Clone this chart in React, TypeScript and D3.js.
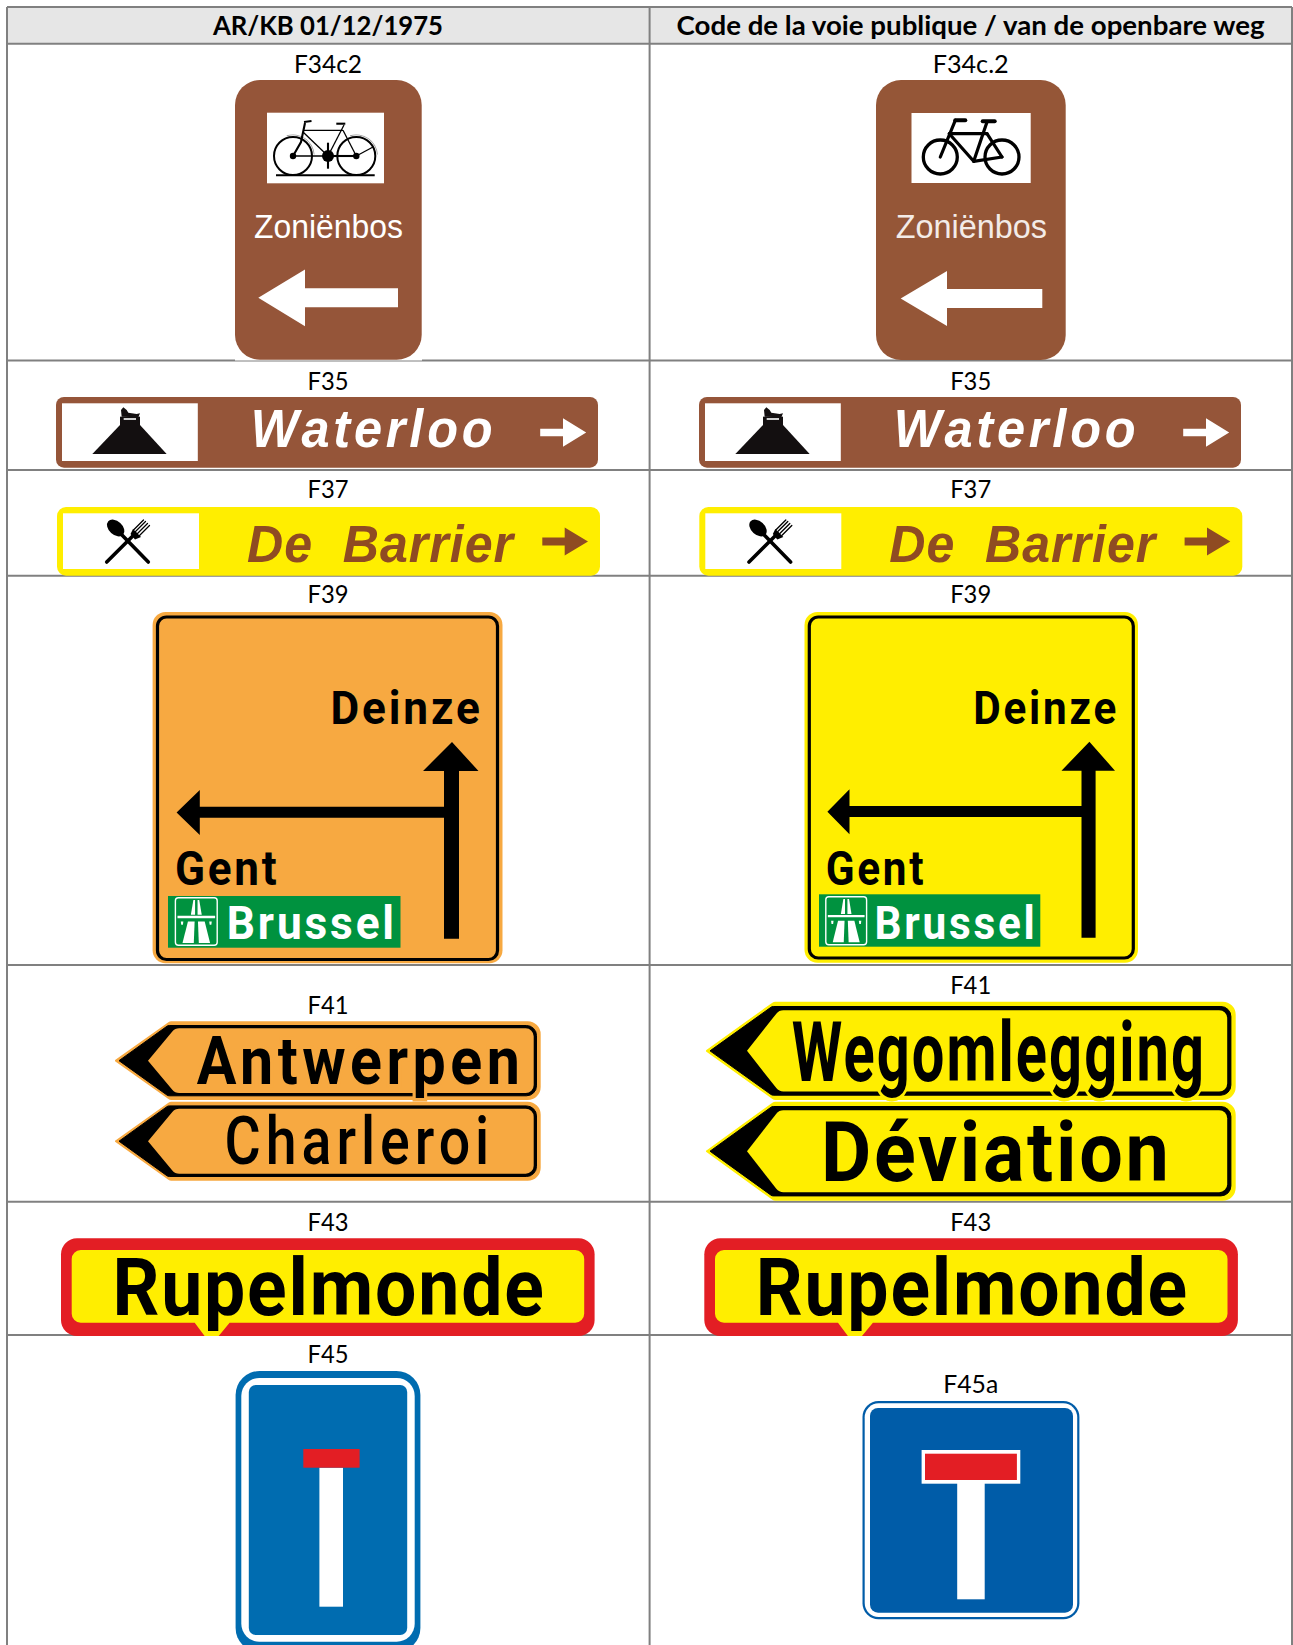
import * as d3 from "d3";

const WIDTH = 1293;
const HEIGHT = 1645;

const headers = ["AR/KB 01/12/1975", "Code de la voie publique / van de openbare weg"];
const rows = ["a", "b", "c", "d", "e", "f", "g"];
const leftCodes = ["F34c2", "F35", "F37", "F39", "F41", "F43", "F45"];
const rightCodes = ["F34c.2", "F35", "F37", "F39", "F41", "F43", "F45a"];
const leftLabelY = [72.5, 389.7, 498.3, 603.3, 1013.7, 1230.7, 1363.3];
const rightLabelY = [72.5, 389.7, 498.3, 603.3, 993.7, 1230.7, 1393.3];
const leftLabelW = [68, 41, 41, 41, 41, 41, 41];
const rightLabelW = [76, 41, 41, 41, 41, 41, 55];
const columnEdges = [7, 649.6, 1292];
const rowEdges = [7, 43.7, 360.5, 470, 575.7, 965, 1201.7, 1335];

const signWords = {
  zonien: "Zoniënbos",
  waterloo: "Waterloo",
  barrier: "De\u00a0\u00a0Barrier",
  deinze: "Deinze",
  gent: "Gent",
  brussel: "Brussel",
  antwerpen: "Antwerpen",
  charleroi: "Charleroi",
  wegomlegging: "Wegomlegging",
  deviation: "Déviation",
  rupelmonde: "Rupelmonde",
};

const BROWN = "#955539";
const RUST = "#8f4b22";
const YELLOW = "#ffee00";
const ORANGE = "#f7a941";
const GREEN = "#00923f";
const RED = "#e31e24";
const SIGN_FONT = "Roboto, 'Liberation Sans', sans-serif";
const ARIAL = "'Liberation Sans', Arial, sans-serif";
const TABLE_FONT = "Lato, 'Open Sans', sans-serif";

const poly = d3.line<number[]>().x((d) => d[0]).y((d) => d[1]);
const closed = (pts: number[][]) => poly(pts) + "Z";

function Txt({ x, y, w, size, fill = "#000", family = SIGN_FONT, weight = 700, italic = false, ls = 0, halo, children }: any) {
  return (
    <text
      x={x}
      y={y}
      fontSize={size}
      fontFamily={family}
      fontWeight={weight}
      fontStyle={italic ? "italic" : "normal"}
      fill={fill}
      textLength={w + ls}
      lengthAdjust="spacingAndGlyphs"
      letterSpacing={ls || undefined}
      stroke={halo}
      strokeWidth={halo ? 7 : undefined}
      style={halo ? { paintOrder: "stroke" } : undefined}
    >
      {children}
    </text>
  );
}

function rounded(x0: number, y0: number, x1: number, y1: number, r: number, fill: string) {
  return <rect x={x0} y={y0} width={x1 - x0} height={y1 - y0} rx={r} fill={fill} />;
}

// plate with an arrow point on the left (F41)
function platePath(tip: number, shoulder: number, right: number, top: number, bottom: number, r: number, rs: number) {
  const mid = (top + bottom) / 2;
  const p = d3.path();
  p.moveTo(tip, mid);
  p.arcTo(shoulder, top, right, top, rs);
  p.arcTo(right, top, right, top + r, r);
  p.arcTo(right, bottom, right - r, bottom, r);
  p.arcTo(shoulder, bottom, tip, mid, rs);
  p.closePath();
  return p.toString();
}

function Plate({ tip, shoulder, right, top, bottom, fill, inset, concave }: any) {
  return (
    <g>
      <path
        d={platePath(tip + 1, shoulder, right - 1, top + 1, bottom - 1, 12, 4)}
        fill={fill}
        stroke={fill}
        strokeWidth={2}
        strokeLinejoin="round"
      />
      <path
        d={platePath(tip + 4, shoulder - 2, right - inset[0] - 0.5, top + inset[0] + 0.5, bottom - inset[0] - 0.5, 10, 4)}
        fill="#000"
        stroke="#000"
        strokeWidth={1}
        strokeLinejoin="round"
      />
      <path d={platePath(concave, shoulder + 5, right - inset[1], top + inset[1], bottom - inset[1], 8, 9)} fill={fill} />
    </g>
  );
}

function BikeOld() {
  const wheels = [293, 356.3];
  const cy = 156;
  const crank = 328;
  const guard = d3.arc()({ innerRadius: 20.8, outerRadius: 21.6, startAngle: -0.3, endAngle: 1.5 } as any)!;
  const thin = [
    [[303, 130.3], [343, 130.3]],
    [[303, 132], [crank, cy]],
    [[344, 125], [crank, cy]],
    [[343, 130.3], [356.3, cy]],
    [[293, cy], [crank, cy]],
    [[356.3, cy], [373, 147]],
  ];
  const thick = [
    [[305, 123], [301, 142], [293, cy]],
    [[crank, cy], [356.3, cy]],
    [[crank, 142.7], [crank, 168.7]],
    [[304, 122], [311.5, 121]],
    [[336.3, 123.7], [345.3, 123.7]],
    [[276, 175.3], [374.7, 175.3]],
  ];
  return (
    <g>
      {wheels.map((x) => (
        <g key={x}>
          <path d={guard} transform={`translate(${x},${cy})`} fill="#9a9a9a" />
          <circle cx={x} cy={cy} r={19} fill="none" stroke="#000" strokeWidth={2} />
          <circle cx={x} cy={cy} r={3.2} fill="#000" />
        </g>
      ))}
      {thin.map((l, i) => (
        <path key={i} d={poly(l)!} stroke="#000" strokeWidth={1.3} fill="none" />
      ))}
      {thick.map((l, i) => (
        <path key={i} d={poly(l)!} stroke="#000" strokeWidth={2.1} fill="none" />
      ))}
      <circle cx={crank} cy={cy} r={6} fill="#000" />
    </g>
  );
}

function BikeNew() {
  const wheels = [940.3, 1002];
  const cy = 157;
  const lines = [
    [[955.3, 120.3], [940.3, 157]],
    [[949.3, 133.7], [987, 133.7]],
    [[949.3, 133.7], [973.7, 161.3]],
    [[987, 122], [973.7, 161.3]],
    [[987, 133.7], [1002, 157]],
    [[973.7, 161.3], [1002, 157]],
    [[955.3, 120.3], [965.3, 120.3]],
    [[982.7, 121.3], [994.7, 121.3]],
  ];
  return (
    <g>
      {wheels.map((x) => (
        <circle key={x} cx={x} cy={cy} r={17} fill="none" stroke="#000" strokeWidth={3.3} />
      ))}
      {lines.map((l, i) => (
        <path key={i} d={poly(l)!} stroke="#000" strokeWidth={i > 5 ? 4 : 3.2} fill="none" strokeLinecap="round" />
      ))}
    </g>
  );
}

function LeftArrow({ tip, back, end, cy, head, shaft, fill }: any) {
  return (
    <path
      d={closed([
        [tip, cy],
        [back, cy - head],
        [back, cy - shaft],
        [end, cy - shaft],
        [end, cy + shaft],
        [back, cy + shaft],
        [back, cy + head],
      ])}
      fill={fill}
    />
  );
}

function RightArrow({ start, back, tip, cy, head, shaft, fill }: any) {
  return (
    <path
      d={closed([
        [start, cy - shaft],
        [back, cy - shaft],
        [back, cy - head],
        [tip, cy],
        [back, cy + head],
        [back, cy + shaft],
        [start, cy + shaft],
      ])}
      fill={fill}
    />
  );
}

function F35({ dx }: { dx: number }) {
  // mountain drawn in units of a 270x180 box over the white panel
  const mx = d3.scaleLinear().domain([0, 270]).range([85 + dx, 175 + dx]);
  const my = d3.scaleLinear().domain([0, 180]).range([400, 460]);
  const ink = (pts: number[][]) => closed(pts.map((d) => [mx(d[0]), my(d[1])]));
  return (
    <g>
      {rounded(56 + dx, 397, 598 + dx, 467.7, 8, BROWN)}
      <rect x={62 + dx} y={403.3} width={135.8} height={57.7} fill="#fff" />
      <path d={ink([[22, 162], [105, 75], [165, 75], [245, 162]])} fill="#130f10" />
      <path d={ink([[105, 50], [165, 50], [165, 78], [105, 78]])} fill="#130f10" />
      <path d={ink([[110, 50], [108, 30], [115, 22], [125, 30], [130, 38], [155, 42], [165, 40], [160, 52]])} fill="#130f10" />
      <path d={ink([[116, 54], [153, 54], [153, 60], [116, 60]])} fill="#fff" opacity={0.8} />
      <Txt x={250.8 + dx} y={447.3} w={241.7} size={53} family={ARIAL} italic fill="#fff" ls={4}>
        {signWords.waterloo}
      </Txt>
      <RightArrow start={540.2 + dx} back={563 + dx} tip={586.2 + dx} cy={432.5} head={14.3} shaft={3.7} fill="#fff" />
    </g>
  );
}

function Cutlery() {
  const tines = [
    [[133.5, 530], [143.5, 520]],
    [[135.5, 531.5], [145.5, 521.5]],
    [[137.5, 533.5], [147.5, 523.5]],
    [[139.5, 535.5], [149.5, 525.5]],
  ];
  return (
    <g stroke="#000" strokeLinecap="round" fill="none">
      <path d={poly([[121, 534], [148.3, 562]])!} strokeWidth={3.6} />
      <path d={poly([[106.7, 562], [135, 533.7]])!} strokeWidth={3.6} />
      <ellipse cx={115.7} cy={528} rx={10} ry={6.8} transform="rotate(42 115.7 528)" fill="#000" stroke="none" />
      <path d={closed([[133, 529], [141, 537], [135, 539.5], [130.5, 534]])} fill="#000" stroke="none" />
      {tines.map((t, i) => (
        <path key={i} d={poly(t)!} strokeWidth={1.3} />
      ))}
    </g>
  );
}

function F37({ dx }: { dx: number }) {
  return (
    <g>
      {rounded(57 + dx, 507, 600 + dx, 575.7, 9, YELLOW)}
      <rect x={63 + dx} y={513.3} width={136} height={55.7} fill="#fff" />
      <g transform={`translate(${dx},0)`}>
        <Cutlery />
      </g>
      <Txt x={247 + dx} y={562} w={266} size={51} family={ARIAL} italic fill={RUST} ls={1}>
        {signWords.barrier}
      </Txt>
      <RightArrow start={542.3 + dx} back={564.7 + dx} tip={588 + dx} cy={541.5} head={14} shaft={3.9} fill={RUST} />
    </g>
  );
}

function MotorwayIcon({ x0, x1, y0, y1 }: any) {
  const u = d3.scaleLinear().domain([0, 1]).range([x0, x1]);
  const v = d3.scaleLinear().domain([0, 1]).range([y0, y1]);
  const shapes = [
    [[0.37, 0.36], [0.43, 0.05], [0.47, 0.05], [0.47, 0.36]],
    [[0.53, 0.36], [0.53, 0.05], [0.57, 0.05], [0.63, 0.36]],
    [[0.05, 0.38], [0.95, 0.38], [0.95, 0.43], [0.05, 0.43]],
    [[0.17, 0.95], [0.3, 0.5], [0.46, 0.5], [0.44, 0.95]],
    [[0.56, 0.95], [0.54, 0.5], [0.7, 0.5], [0.83, 0.95]],
    [[0.13, 0.5], [0.19, 0.5], [0.18, 0.57], [0.14, 0.57]],
    [[0.81, 0.5], [0.87, 0.5], [0.86, 0.57], [0.82, 0.57]],
  ];
  return (
    <g>
      <rect x={x0} y={y0} width={x1 - x0} height={y1 - y0} rx={3} fill="none" stroke="#fff" strokeWidth={1.4} />
      {shapes.map((s, i) => (
        <path key={i} d={closed(s.map((d) => [u(d[0]), v(d[1])]))} fill="#fff" />
      ))}
    </g>
  );
}

function F39(props: any) {
  const { fill, outer, border, deinze, up, left, gent, green, icon, brussel } = props;
  return (
    <g>
      {rounded(outer[0], outer[1], outer[2], outer[3], 13, fill)}
      <rect
        x={border[0]}
        y={border[1]}
        width={border[2] - border[0]}
        height={border[3] - border[1]}
        rx={9}
        fill="none"
        stroke="#000"
        strokeWidth={3.2}
      />
      <Txt x={deinze[0]} y={724} w={deinze[1]} size={46} ls={3}>{signWords.deinze}</Txt>
      <path
        d={closed([
          [up.tip, up.top],
          [up.h1, up.base],
          [up.s0, up.base],
          [up.s0, left.y0],
          [left.back, left.y0],
          [left.back, left.top],
          [left.tip, (left.top + left.bottom) / 2],
          [left.back, left.bottom],
          [left.back, left.y1],
          [up.s0, left.y1],
          [up.s0, up.end],
          [up.s1, up.end],
          [up.s1, up.base],
          [up.h2, up.base],
        ])}
        fill="#000"
      />
      <Txt x={gent[0]} y={gent[2]} w={gent[1]} size={48} ls={3}>{signWords.gent}</Txt>
      <rect x={green[0]} y={green[1]} width={green[2] - green[0]} height={green[3] - green[1]} fill={GREEN} />
      <MotorwayIcon x0={icon[0]} y0={icon[1]} x1={icon[2]} y1={icon[3]} />
      <Txt x={brussel[0]} y={brussel[2]} w={brussel[1]} size={47} fill="#fff" ls={3}>{signWords.brussel}</Txt>
    </g>
  );
}

function F43({ dx }: { dx: number }) {
  const inner = d3.path();
  const [l, r, t, b] = [715 + dx, 1227.5 + dx, 1250, 1322.7];
  inner.moveTo(l + 9, t);
  inner.arcTo(r, t, r, t + 9, 9);
  inner.arcTo(r, b, r - 9, b, 9);
  inner.lineTo(872.9 + dx, b);
  inner.lineTo(862 + dx, 1336);
  inner.lineTo(847.9 + dx, 1336);
  inner.lineTo(838 + dx, b);
  inner.arcTo(l, b, l, b - 9, 9);
  inner.arcTo(l, t, l + 9, t, 9);
  inner.closePath();
  return (
    <g>
      {rounded(704.3 + dx, 1238.3, 1237.9 + dx, 1336, 16, RED)}
      <path d={inner.toString()} fill={YELLOW} />
      <Txt x={755.7 + dx} y={1315} w={431.3} size={80} ls={2}>{signWords.rupelmonde}</Txt>
    </g>
  );
}

export default function App() {
  const rowY = d3.scaleOrdinal<string, number>().domain(rows);
  const colX = d3.scalePoint().domain(["left", "right"]).range([328, 970.7]);
  const [lx, rx] = [colX("left")!, colX("right")!];
  const ly = rowY.copy().range(leftLabelY);
  const ry = rowY.copy().range(rightLabelY);

  return (
    <svg
      width={WIDTH}
      height={HEIGHT}
      viewBox={`0 0 ${WIDTH} ${HEIGHT}`}
      style={{ position: "absolute", left: 0, top: 0, display: "block", background: "#fff" }}
    >
      <rect x={columnEdges[0]} y={rowEdges[0]} width={columnEdges[2] - columnEdges[0]} height={rowEdges[1] - rowEdges[0]} fill="#e6e6e6" />

      {/* rules first, the sign images sit on top of them */}
      <g stroke="#808080" strokeWidth={2}>
        {rowEdges.map((y, i) => (
          <line key={i} x1={columnEdges[0]} x2={columnEdges[2]} y1={y} y2={y} />
        ))}
        {columnEdges.map((x) => (
          <line key={x} x1={x} x2={x} y1={rowEdges[0]} y2={HEIGHT} />
        ))}
      </g>

      {/* F34c */}
      <rect x={235} y={359} width={187} height={1.5} fill="#fff" />
      {rounded(235, 80, 421.7, 359.7, 25, BROWN)}
      <rect x={267} y={112.7} width={117} height={70.6} fill="#fff" />
      <BikeOld />
      <Txt x={254} y={238} w={149} size={34} family={ARIAL} weight={400} fill="#fff">{signWords.zonien}</Txt>
      <LeftArrow tip={258.3} back={305} end={398} cy={297.8} head={28.4} shaft={9.5} fill="#fff" />

      {rounded(876, 80, 1065.7, 360, 25, "#955637")}
      <rect x={911.5} y={113} width={119.2} height={70} fill="#fff" />
      <BikeNew />
      <Txt x={895.7} y={238.3} w={151.3} size={34} family={ARIAL} weight={400} fill="#f3ebe7">{signWords.zonien}</Txt>
      <LeftArrow tip={900.7} back={947} end={1042.3} cy={298.5} head={27.5} shaft={9.4} fill="#fff" />

      <F35 dx={0} />
      <F35 dx={643} />
      <F37 dx={0} />
      <F37 dx={642.3} />

      <F39
        fill={ORANGE}
        outer={[152.6, 612, 502.5, 963.3]}
        border={[157.5, 617, 497.5, 959.5]}
        deinze={[330.4, 149.3]}
        up={{ tip: 452, top: 742, base: 771, h1: 423, h2: 478.5, s0: 444, s1: 459, end: 938.7 }}
        left={{ tip: 176.6, back: 199.8, top: 790, bottom: 835, y0: 806.7, y1: 817.7 }}
        gent={[175, 101.5, 885.3]}
        green={[168, 896, 400.5, 947.7]}
        icon={[175.4, 897.7, 217.2, 945.3]}
        brussel={[226.8, 167.1, 939.3]}
      />
      <F39
        fill={YELLOW}
        outer={[804.5, 612, 1138, 962.7]}
        border={[809.3, 617, 1133.3, 958]}
        deinze={[973.3, 142.7]}
        up={{ tip: 1089.4, top: 741.7, base: 770.7, h1: 1061.5, h2: 1115, s0: 1081.5, s1: 1095.6, end: 937.7 }}
        left={{ tip: 827.4, back: 849.5, top: 789.3, bottom: 834.3, y0: 806, y1: 817 }}
        gent={[825.8, 97.4, 884.7]}
        green={[819, 894.3, 1040.3, 946.7]}
        icon={[825.8, 896.7, 866.6, 944.7]}
        brussel={[874.5, 159.9, 939]}
      />

      {/* F41 */}
      <Plate tip={115} shoulder={170} right={540.7} top={1021.3} bottom={1100} fill={ORANGE} inset={[3.7, 7]} concave={148} />
      <Plate tip={115} shoulder={170} right={540.7} top={1101.7} bottom={1180.7} fill={ORANGE} inset={[3.7, 7]} concave={148} />
      <Txt x={196.8} y={1084} w={322.5} size={66} ls={5} halo={ORANGE}>{signWords.antwerpen}</Txt>
      <Txt x={224.6} y={1164} w={263.6} size={67} weight={500} ls={6}>{signWords.charleroi}</Txt>

      <Plate tip={706} shoulder={774} right={1235.7} top={1001.7} bottom={1100} fill={YELLOW} inset={[4.3, 8.5]} concave={747} />
      <Plate tip={706} shoulder={774} right={1235.7} top={1101.7} bottom={1200.7} fill={YELLOW} inset={[4.3, 8.5]} concave={747} />
      <Txt x={791.8} y={1080.7} w={411.2} size={84} ls={3} halo={YELLOW}>{signWords.wegomlegging}</Txt>
      <Txt x={821} y={1180.7} w={347.6} size={84} ls={3}>{signWords.deviation}</Txt>

      <F43 dx={-643.3} />
      <F43 dx={0} />

      {/* F45 */}
      {rounded(235.6, 1371, 420.4, 1652, 24, "#006cb0")}
      {rounded(241.3, 1378, 414.7, 1641.7, 18, "#fff")}
      {rounded(248.8, 1385, 407.2, 1635, 7, "#006cb0")}
      <rect x={319.4} y={1467.7} width={23.6} height={139} fill="#fff" />
      <rect x={303.3} y={1449} width={56.3} height={18.7} fill={RED} />

      {rounded(862.5, 1401, 1079.4, 1619.3, 16, "#005ca8")}
      {rounded(864.7, 1403.3, 1077.2, 1617, 14, "#fff")}
      {rounded(870, 1408, 1073, 1612.7, 8, "#005ca8")}
      <rect x={957.2} y={1483} width={27.5} height={116.3} fill="#fff" />
      <rect x={921.6} y={1450} width={98.7} height={33.7} fill="#fff" />
      <rect x={925} y={1453.7} width={91.9} height={26.3} fill={RED} />

      <Txt x={lx - 115} y={35} w={230} size={26} family={TABLE_FONT}>{headers[0]}</Txt>
      <Txt x={676.6} y={35} w={588} size={26} family={TABLE_FONT}>{headers[1]}</Txt>
      {rows.map((r, i) => (
        <g key={r}>
          <Txt x={lx - leftLabelW[i] / 2} y={ly(r)} w={leftLabelW[i]} size={25} family={TABLE_FONT} weight={400}>
            {leftCodes[i]}
          </Txt>
          <Txt x={rx - rightLabelW[i] / 2} y={ry(r)} w={rightLabelW[i]} size={25} family={TABLE_FONT} weight={400}>
            {rightCodes[i]}
          </Txt>
        </g>
      ))}
    </svg>
  );
}
